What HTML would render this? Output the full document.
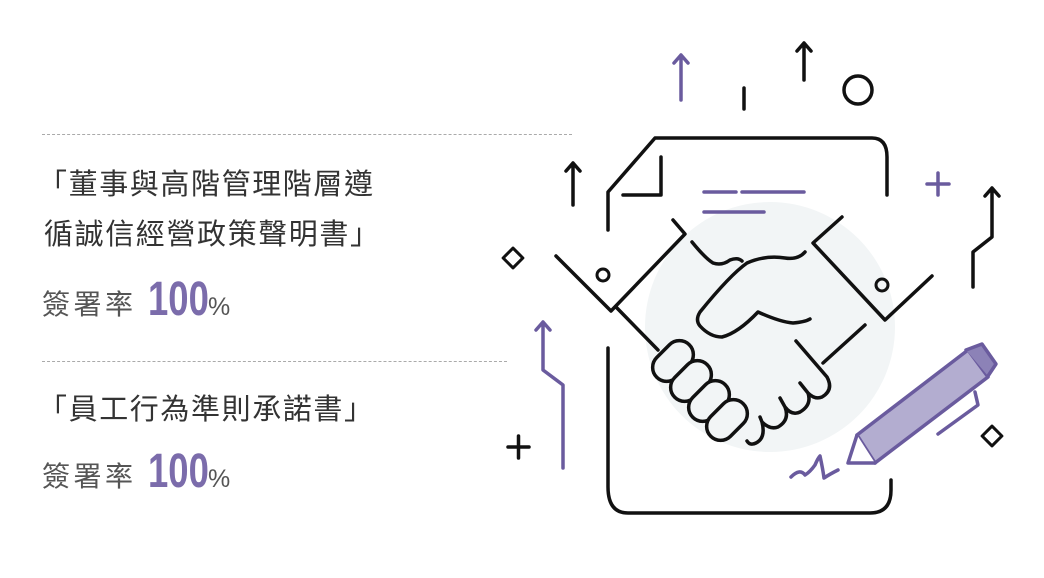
<!DOCTYPE html>
<html><head><meta charset="utf-8"><style>
body{margin:0;width:1044px;height:578px;background:#fff;position:relative;overflow:hidden;font-family:"Liberation Sans","Noto Sans CJK TC",sans-serif}
.t{position:absolute;left:38px;color:#333;font-size:29px;letter-spacing:1.6px;white-space:nowrap;line-height:1}
.s{position:absolute;left:42px;color:#555;font-size:28px;white-space:nowrap;line-height:1;letter-spacing:3.5px}
.n{position:absolute;color:#7b6cab;font-size:48px;font-weight:bold;transform:scaleX(0.76);transform-origin:left;line-height:1;font-family:"Liberation Sans",sans-serif}
.p{position:absolute;color:#555;font-size:25px;line-height:1}
.d{position:absolute;left:42px;border-top:1px dashed #aaa;height:0}
</style></head><body>
<div class="d" style="top:134px;width:530px"></div>
<div class="d" style="top:361px;width:465px"></div>
<div class="t" style="top:171px">「董事與高階管理階層遵</div>
<div class="t" style="top:221px;left:44px">循誠信經營政策聲明書」</div>
<div class="s" style="top:291px">簽署率</div>
<div class="n" style="top:276px;left:148px">100</div>
<div class="p" style="top:295px;left:208px">%</div>
<div class="t" style="top:396px">「員工行為準則承諾書」</div>
<div class="s" style="top:463px">簽署率</div>
<div class="n" style="top:448px;left:148px">100</div>
<div class="p" style="top:467px;left:208px">%</div>
<svg width="1044" height="578" style="position:absolute;left:0;top:0" fill="none" stroke-linecap="round" stroke-linejoin="round">
<circle cx="770" cy="327" r="125" fill="#f2f5f6" stroke="none"/>
<g stroke="#111" stroke-width="3.5">
<path d="M608,230 L608,192 L655,138 L872,138 Q887,138 887,157 L887,195"/>
<path d="M661,157 L661,195 L623,195"/>
<path d="M608,348 L608,487 Q608,513 628,513 L870,513 Q891,513 891,490 L891,480"/>
<path d="M556,256 L611,311 L685,234 L673,220"/>
<path d="M616,307 L658,350"/>
<circle cx="603" cy="275" r="6" stroke-width="3"/>
<path d="M842,217 L813,243 L885,320 L932,276"/>
<circle cx="882" cy="285" r="6" stroke-width="3"/>
<path d="M865,325 L823,363"/>
<path d="M692,242 Q705,258 713,263 Q722,266 730,260 Q738,257 742,261"/>
<path d="M805,252 Q798,260 785,258 Q765,255 747,263 Q730,275 700,312 Q695,320 700,326 Q710,337 722,337 Q738,333 758,312 Q780,322 793,323 Q805,322 810,319"/>
<g transform="translate(673,361) rotate(-45)"><rect x="-23" y="-14" width="46" height="28" rx="14" fill="#f2f5f6"/></g>
<g transform="translate(691,381) rotate(-45)"><rect x="-23" y="-14" width="46" height="28" rx="14" fill="#f2f5f6"/></g>
<g transform="translate(709,401) rotate(-45)"><rect x="-23" y="-14" width="46" height="28" rx="14" fill="#f2f5f6"/></g>
<g transform="translate(727,420) rotate(-45)"><rect x="-23" y="-14" width="46" height="28" rx="14" fill="#f2f5f6"/></g>
<path d="M796,341 L827,377 Q834,390 822,397 Q815,400 808,393 M800,383 L808,393 Q812,405 800,412 Q792,416 785,407 M780,398 L785,407 Q790,420 778,427 Q770,430 762,422 M760,417 L762,422 Q766,438 756,443 Q750,446 747,441"/>
<path d="M804,80 L804,43 M797,51 L804,43 L811,51"/>
<path d="M744,88 L744,109"/>
<circle cx="858" cy="90" r="14"/>
<path d="M573,205 L573,163 M566,171 L573,163 L580,171"/>
<path d="M973,287 L973,252 L992,237 L992,188 M985,196 L992,188 L999,196"/>
<path d="M508,447 L529,447 M518.5,436 L518.5,458"/>
<rect x="506" y="251" width="14" height="14" transform="rotate(45 513 258)" stroke-width="3"/>
<rect x="985" y="429" width="14" height="14" transform="rotate(45 992 436)" stroke-width="3"/>
</g>
<g stroke="#6a5b9e" stroke-width="3.5">
<path d="M704,192 L736,192 M742,192 L804,192 M704,212 L764,212"/>
<path d="M681,100 L681,55 M674,63 L681,55 L688,63"/>
<path d="M927,184 L949,184 M938,173 L938,195"/>
<path d="M563,468 L563,385 L543,370 L543,322 M536,330 L543,322 L550,330"/>
<path d="M857,435 L968,350 L988,377 L875,463 Z" fill="#b3add0"/>
<path d="M857,435 L848,463 L875,463" fill="#fff"/>
<path d="M966,350 L982,344 L996,364 L988,376" fill="#8c82b7"/>
<path d="M975,392 L978,405 L938,434"/>
<path d="M791,477 Q800,468 805,475 Q810,472 815,465 Q818,458 820,456 Q823,470 824,478 Q830,474 838,470"/>
</g>
</svg>
</body></html>
